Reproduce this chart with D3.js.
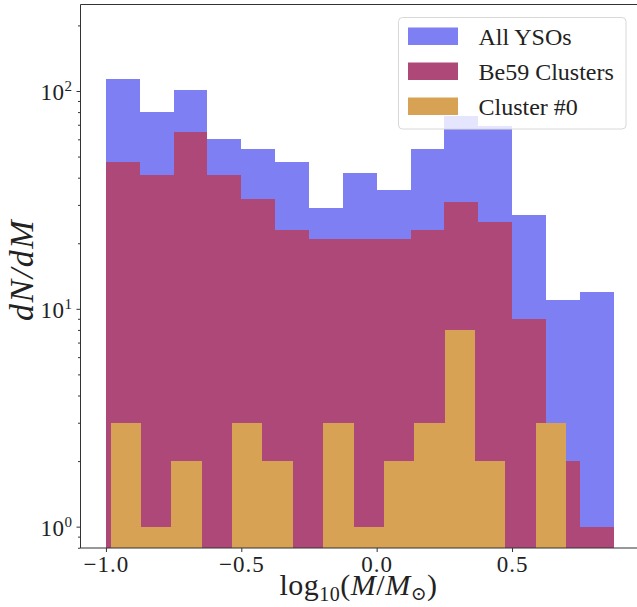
<!DOCTYPE html>
<html><head><meta charset="utf-8">
<script src="https://cdn.jsdelivr.net/npm/d3@7"></script>
<style>body{margin:0;background:#fff}svg{display:block}</style>
</head><body>
<script>
// ---- data ----
const binEdgesAll = [-1.0, 0.875];          // range of the 15 bins for All YSOs / Be59
const allYSOs = [113, 80, 101, 60, 54, 47, 29, 42, 35, 54, 77, 69, 27, 11, 12];
const be59 = [47, 41, 65, 41, 32, 23, 21, 21, 21, 23, 31, 25, 9, 2, 1];
const binEdgesCluster = [-0.983, 0.70];     // range of the 15 bins for Cluster #0
const cluster0 = [3, 1, 2, 0, 3, 2, 0, 3, 1, 2, 3, 8, 2, 0, 3];
const xTicks = [-1.0, -0.5, 0.0, 0.5];
const xTickLabels = ["\u22121.0", "\u22120.5", "0.0", "0.5"];
const yTicks = [1, 10, 100];
const yTickExp = ["0", "1", "2"];
const seriesNames = ["All YSOs", "Be59 Clusters", "Cluster #0"];
const seriesColors = ["#7f7ff4", "#ad4879", "#d7a253"];

(function () {
const W = 637, H = 607;
const mLeft = 80.5, mRight = 639, mTop = 4.5, mBottom = 548;
const FONT = "'Liberation Serif', 'DejaVu Serif', serif";

const svg = d3.select("body").append("svg").attr("width", W).attr("height", H);
const x = d3.scaleLinear().domain([-1.094, 0.969]).range([mLeft, mRight]);
const y = d3.scaleLog().domain([0.798, 249.5]).range([mBottom, mTop]);

function bins(range, vals) {
  const w = (range[1] - range[0]) / vals.length;
  return vals.map((v, i) => ({x0: range[0] + i * w, x1: range[0] + (i + 1) * w, v}));
}
const series = [bins(binEdgesAll, allYSOs), bins(binEdgesAll, be59), bins(binEdgesCluster, cluster0)];

const plot = svg.append("g");
series.forEach((s, k) => {
  plot.selectAll(null).data(s.filter(d => d.v > 0)).enter().append("rect")
    .attr("x", d => x(d.x0)).attr("width", d => x(d.x1) - x(d.x0))
    .attr("y", d => y(d.v)).attr("height", d => mBottom - y(d.v))
    .attr("fill", seriesColors[k]).attr("shape-rendering", "crispEdges");
});

// axes
const xAxis = d3.axisBottom(x).tickValues(xTicks).tickSize(4)
  .tickFormat((d, i) => xTickLabels[i]);
const gx = svg.append("g").attr("transform", `translate(0,${mBottom})`).call(xAxis);
gx.select(".domain").remove();
gx.selectAll("line").attr("stroke", "#333");
gx.selectAll("text").attr("y", 24).attr("dy", 0).attr("font-family", FONT).attr("font-size", 23)
  .attr("letter-spacing", 1).attr("fill", "#222");

const minor = [];
[0.1, 1, 10, 100].forEach(b => { for (let m = 2; m <= 9; m++) { const v = b * m; if (v >= 0.798 && v <= 249.5) minor.push(v); } });
const gyMinor = svg.append("g").attr("transform", `translate(${mLeft},0)`)
  .call(d3.axisLeft(y).tickValues(minor).tickSize(2.5).tickFormat(""));
gyMinor.select(".domain").remove();
gyMinor.selectAll("line").attr("stroke", "#333");
const gy = svg.append("g").attr("transform", `translate(${mLeft},0)`)
  .call(d3.axisLeft(y).tickValues(yTicks).tickSize(4).tickFormat(""));
gy.select(".domain").remove();
gy.selectAll("line").attr("stroke", "#333");
gy.selectAll(".tick").each(function(d, i) {
  const t = d3.select(this).append("text").attr("x", -8).attr("y", 9)
    .attr("text-anchor", "end").attr("font-family", FONT).attr("font-size", 23)
    .attr("letter-spacing", 0.5).attr("fill", "#222");
  t.append("tspan").text("10");
  t.append("tspan").attr("dy", -9).attr("font-size", 15).text(yTickExp[i]);
});

// spines
svg.append("line").attr("x1", mLeft).attr("x2", mLeft).attr("y1", mTop).attr("y2", mBottom).attr("stroke", "#333").attr("stroke-width", 1);
svg.append("line").attr("x1", mLeft).attr("x2", W).attr("y1", mBottom).attr("y2", mBottom).attr("stroke", "#333").attr("stroke-width", 1);
svg.append("line").attr("x1", mLeft).attr("x2", W).attr("y1", mTop).attr("y2", mTop).attr("stroke", "#333").attr("stroke-width", 1);

// axis labels
const xl = svg.append("text").attr("x", 358.5).attr("y", 595)
  .attr("text-anchor", "middle").attr("font-family", FONT).attr("font-size", 30)
  .attr("letter-spacing", 0.5).attr("fill", "#222");
xl.append("tspan").text("log");
xl.append("tspan").attr("dy", 6).attr("font-size", 20).text("10");
xl.append("tspan").attr("dy", -6).text("(");
xl.append("tspan").attr("font-style", "italic").text("M");
xl.append("tspan").text("/");
xl.append("tspan").attr("font-style", "italic").text("M");
xl.append("tspan").attr("dy", 5).attr("font-size", 19).text("\u2299");
xl.append("tspan").attr("dy", -5).text(")");

svg.append("text").attr("transform", `translate(33,270) rotate(-90)`)
  .attr("text-anchor", "middle").attr("font-family", FONT).attr("font-size", 34)
  .attr("letter-spacing", 1.5).attr("fill", "#222")
  .attr("font-style", "italic").text("dN/dM");

// legend
const lg = svg.append("g");
lg.append("rect").attr("x", 398.5).attr("y", 17.5).attr("width", 227.5).attr("height", 111.5)
  .attr("rx", 4).attr("fill", "#fff").attr("fill-opacity", 0.8).attr("stroke", "#d8d8d8");
seriesNames.forEach((n, i) => {
  lg.append("rect").attr("x", 408).attr("y", 27.5 + i * 35).attr("width", 50).attr("height", 17.5)
    .attr("fill", seriesColors[i]);
  lg.append("text").attr("x", 478.5).attr("y", 45 + i * 35).attr("font-family", FONT)
    .attr("font-size", 24).attr("fill", "#222").text(n);
});
})();
</script>
</body></html>
